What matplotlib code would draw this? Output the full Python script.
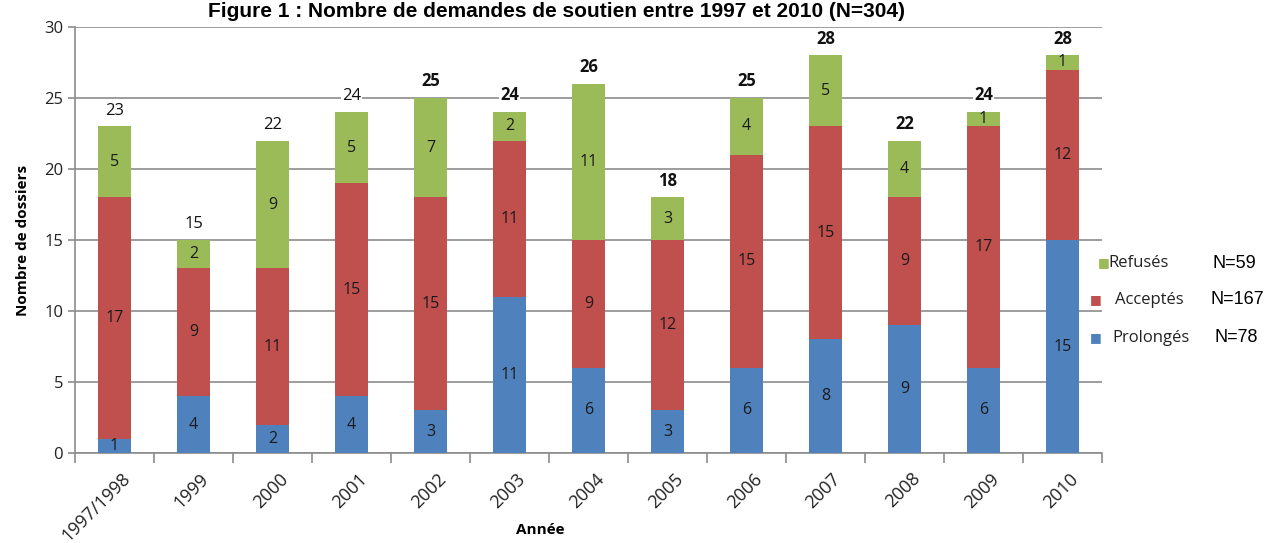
import numpy as np
import matplotlib
matplotlib.use("Agg")
import matplotlib.pyplot as plt

# Data
annees = ["1997/1998", "1999", "2000", "2001", "2002", "2003", "2004",
          "2005", "2006", "2007", "2008", "2009", "2010"]
prolonges = [1, 4, 2, 4, 3, 11, 6, 3, 6, 8, 9, 6, 15]
acceptes = [17, 9, 11, 15, 15, 11, 9, 12, 15, 15, 9, 17, 12]
refuses = [5, 2, 9, 5, 7, 2, 11, 3, 4, 5, 4, 1, 1]
totaux_gras = [False, False, False, False, True, True, True, True, True, True, True, True, True]

legende = ["Refusés", "Acceptés", "Prolongés"]
effectifs = ["N=59", "N=167", "N=78"]

bleu, rouge, vert = "#4F81BD", "#C0504D", "#9BBB59"
police = ["Open Sans", "DejaVu Sans"]
plt.rcParams["font.family"] = police

fig = plt.figure(figsize=(12.76, 5.43), dpi=100)
ax = fig.add_axes([0.0588, 0.1657, 0.8048, 0.7846])

x = np.arange(len(annees))
largeur = 0.41
p = np.array(prolonges)
a = np.array(acceptes)
r = np.array(refuses)

ax.bar(x, p, largeur, color=bleu, zorder=3)
ax.bar(x, a, largeur, bottom=p, color=rouge, zorder=3)
ax.bar(x, r, largeur, bottom=p + a, color=vert, zorder=3)

# values inside segments
for i in range(len(annees)):
    for val, bas in ((p[i], 0), (a[i], p[i]), (r[i], p[i] + a[i])):
        ax.text(x[i], bas + val / 2, str(val), ha="center", va="center",
                fontsize=11.5, color="#1a1a1a", zorder=4)
    total = p[i] + a[i] + r[i]
    ax.text(x[i], total + 0.55, str(total), ha="center", va="bottom",
            fontsize=12, color="#111111", zorder=4,
            fontweight="bold" if totaux_gras[i] else "normal",
            bbox=dict(facecolor="white", edgecolor="none", pad=0.5))

ax.set_xlim(-0.5, len(annees) - 0.5)
ax.set_ylim(0, 30)
ax.set_yticks(range(0, 31, 5))
ax.yaxis.grid(True, color="#8c8c8c", linewidth=1.2, zorder=0)
ax.set_axisbelow(True)
for s in ("top", "right"):
    ax.spines[s].set_visible(False)
for s in ("left", "bottom"):
    ax.spines[s].set_color("#8c8c8c")
    ax.spines[s].set_linewidth(1.2)

ax.set_xticks(x + 0.08)
ax.set_xticklabels(annees, rotation=45, ha="right", rotation_mode="anchor",
                   fontsize=13, color="#222222")
ax.tick_params(axis="x", length=0, pad=12)
ax.set_xticks(np.arange(-0.5, len(annees), 1), minor=True)
ax.tick_params(axis="x", which="minor", length=7, color="#8c8c8c", width=1.2)
ax.tick_params(axis="y", length=5, color="#8c8c8c", width=1.2, labelsize=12,
               labelcolor="#222222")

ax.set_ylabel("Nombre de dossiers", fontsize=11, fontweight="bold", labelpad=10)
fig.text(540 / 1276, 1 - 530 / 543, "Année", fontsize=11, fontweight="bold",
         ha="center", va="center")

# title
fig.text(0.436, 1 - 17 / 543, "Figure 1 : Nombre de demandes de soutien entre 1997 et 2010 (N=304)",
         ha="center", va="baseline", fontsize=15, fontweight="bold",
         family=["Liberation Sans", "DejaVu Sans"])

# legend drawn by hand
couleurs = [vert, rouge, bleu]
ys = [263, 300, 338]
xs_carre = [1104, 1096, 1096]
xs_texte = [1108, 1115, 1112]
xs_n = [1212, 1210, 1215]
for nom, n, c, yy, xc, xt, xn in zip(legende, effectifs, couleurs, ys, xs_carre, xs_texte, xs_n):
    yf = 1 - yy / 543
    fig.text(xc / 1276, yf, "■", color=c, fontsize=9, ha="center", va="center",
             family="DejaVu Sans")
    fig.text(xt / 1276, yf, nom, fontsize=12, ha="left", va="center", color="#222222")
    fig.text(xn / 1276, yf, n, fontsize=13, ha="left", va="center", color="black",
             family=["Liberation Sans", "DejaVu Sans"])

fig.savefig("out.png", dpi=100)
